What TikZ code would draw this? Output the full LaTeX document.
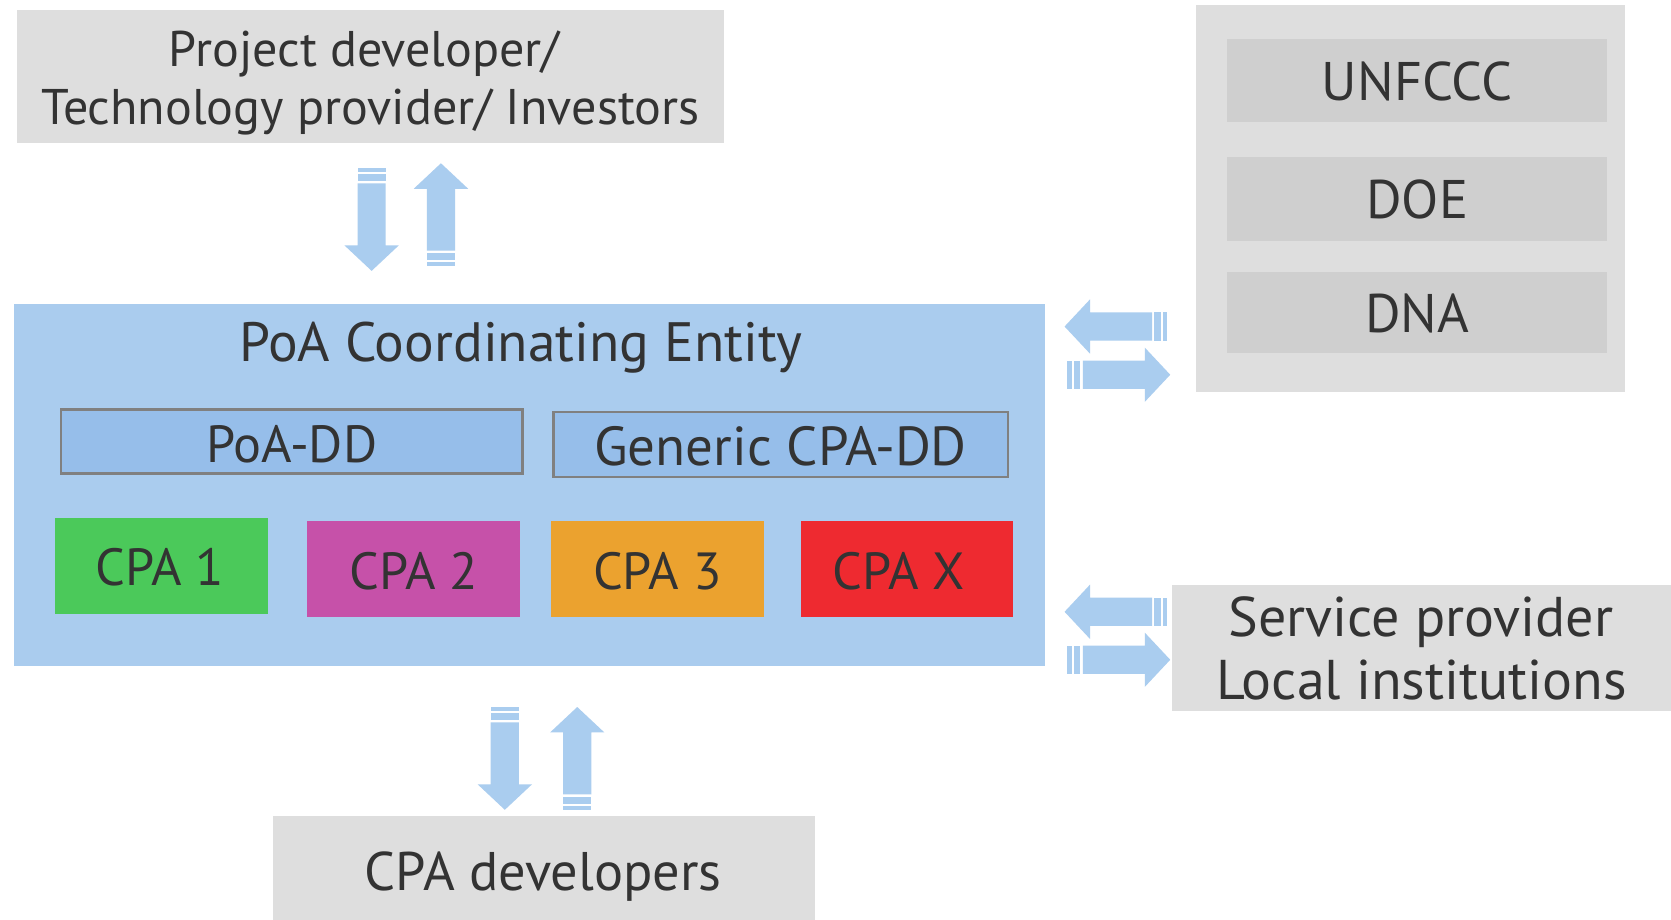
\documentclass[tikz,border=0pt]{standalone}
\usepackage{fontspec}
\setmainfont{PT Sans}
\definecolor{boxgray}{HTML}{DEDEDE}
\definecolor{innergray}{HTML}{CFCFCF}
\definecolor{poablue}{HTML}{AACCEE}
\definecolor{ddblue}{HTML}{96BEEA}
\definecolor{ddborder}{HTML}{808080}
\definecolor{arrowblue}{HTML}{AACDEF}
\definecolor{txt}{HTML}{333333}
\definecolor{cpagreen}{HTML}{4BC95A}
\definecolor{cpamagenta}{HTML}{C651A9}
\definecolor{cpaorange}{HTML}{EBA22F}
\definecolor{cpared}{HTML}{EE2A30}
\newcommand{\stripedarrow}[3]{%
  \begin{scope}[shift={(#1,#2)}, rotate=#3]
    \fill[arrowblue] (0,-13.2) rectangle (4,13.2);
    \fill[arrowblue] (5.8,-13.2) rectangle (12.2,13.2);
    \fill[arrowblue] (14.4,-13.2) -- (72.5,-13.2) -- (72.5,-25.5) -- (96.4,0)
      -- (72.5,25.5) -- (72.5,13.2) -- (14.4,13.2) -- cycle;
  \end{scope}}
\tikzset{
  box/.style={rectangle, inner sep=0pt, outer sep=0pt, draw=none},
  lbl/.style={inner sep=0pt, outer sep=0pt, anchor=base, text=txt},
  fsmall/.style={font=\fontsize{47}{56}\selectfont},
  fbig/.style={font=\fontsize{51}{61}\selectfont},
  ftitle/.style={font=\fontsize{52}{62}\selectfont},
  fserv/.style={font=\fontsize{52.5}{62}\selectfont},
  fdd/.style={font=\fontsize{49}{59}\selectfont},
  fgen/.style={font=\fontsize{51.5}{61}\selectfont},
}
\begin{document}
\begin{tikzpicture}[x=1pt,y=-1pt]
\useasboundingbox[fill=white] (0,0) rectangle (1567,862.7);

% top left box
\node[box, fill=boxgray, minimum width=663pt, minimum height=125pt] (top) at (347.5,71.5) {};
\node[lbl, fsmall] (topa) at (347.5,62.5) {Project developer/\kern0.25em};
\node[lbl, fsmall] (topb) at (347.5,116.3) {Technology provider/ Investors};

% right regulatory box
\node[box, fill=boxgray, minimum width=402pt, minimum height=363pt] (reg) at (1323,186.5) {};
\node[box, fill=innergray, minimum width=356pt, minimum height=77pt] (unfccc) at (1329,75.5) {};
\node[box, fill=innergray, minimum width=356pt, minimum height=79pt] (doe) at (1329,186.5) {};
\node[box, fill=innergray, minimum width=356pt, minimum height=76pt] (dna) at (1329,293) {};
\node[lbl, fbig] (tunfccc) at (1329,94.7) {UNFCCC};
\node[lbl, fbig] (tdoe) at (1329,205) {DOE};
\node[lbl, fbig] (tdna) at (1329,311.5) {DNA};

% PoA coordinating entity
\node[box, fill=poablue, minimum width=967pt, minimum height=340pt] (poa) at (496.5,455) {};
\node[lbl, ftitle] (tpoa) at (488.5,339.3) {PoA Coordinating Entity};
\node[box, fill=ddblue, draw=ddborder, line width=2pt, minimum width=433pt, minimum height=60pt] (poadd) at (273.5,414) {};
\node[box, fill=ddblue, draw=ddborder, line width=2pt, minimum width=426pt, minimum height=61pt] (gen) at (732,416.5) {};
\node[lbl, fdd] (tpoadd) at (273.5,434) {PoA-DD};
\node[lbl, fgen] (tgen) at (732,436.5) {Generic CPA-DD};

\node[box, fill=cpagreen, minimum width=199pt, minimum height=90pt] (cpa1) at (151.5,531) {};
\node[box, fill=cpamagenta, minimum width=200pt, minimum height=90pt] (cpa2) at (388,534) {};
\node[box, fill=cpaorange, minimum width=199pt, minimum height=90pt] (cpa3) at (616.5,534) {};
\node[box, fill=cpared, minimum width=199pt, minimum height=90pt] (cpax) at (850.5,534) {};
\node[lbl, fdd] (tcpa1) at (150,549.5) {CPA 1};
\node[lbl, fdd] (tcpa2) at (388,552.5) {CPA 2};
\node[lbl, fdd] (tcpa3) at (616.5,552.5) {CPA 3};
\node[lbl, fdd] (tcpax) at (843,552.5) {CPA X};

% service provider box
\node[box, fill=boxgray, minimum width=468pt, minimum height=118pt] (serv) at (1333,608) {};
\node[lbl, fserv] (tserva) at (1332.5,597.2) {Service provider};
\node[lbl, fserv] (tservb) at (1333,656) {Local institutions};

% CPA developers box
\node[box, fill=boxgray, minimum width=508pt, minimum height=98pt] (cpadev) at (510,814) {};
\node[lbl, fbig] (tcpadev) at (509.5,835) {CPA developers};

% striped block arrows
\stripedarrow{348.5}{157.6}{-90}
\stripedarrow{413.5}{249.5}{90}
\stripedarrow{1094.7}{306.2}{180}
\stripedarrow{1001}{351.4}{0}
\stripedarrow{1094.7}{573.7}{180}
\stripedarrow{1001}{618.7}{0}
\stripedarrow{473.4}{663}{-90}
\stripedarrow{541.3}{759.4}{90}
\end{tikzpicture}
\end{document}
